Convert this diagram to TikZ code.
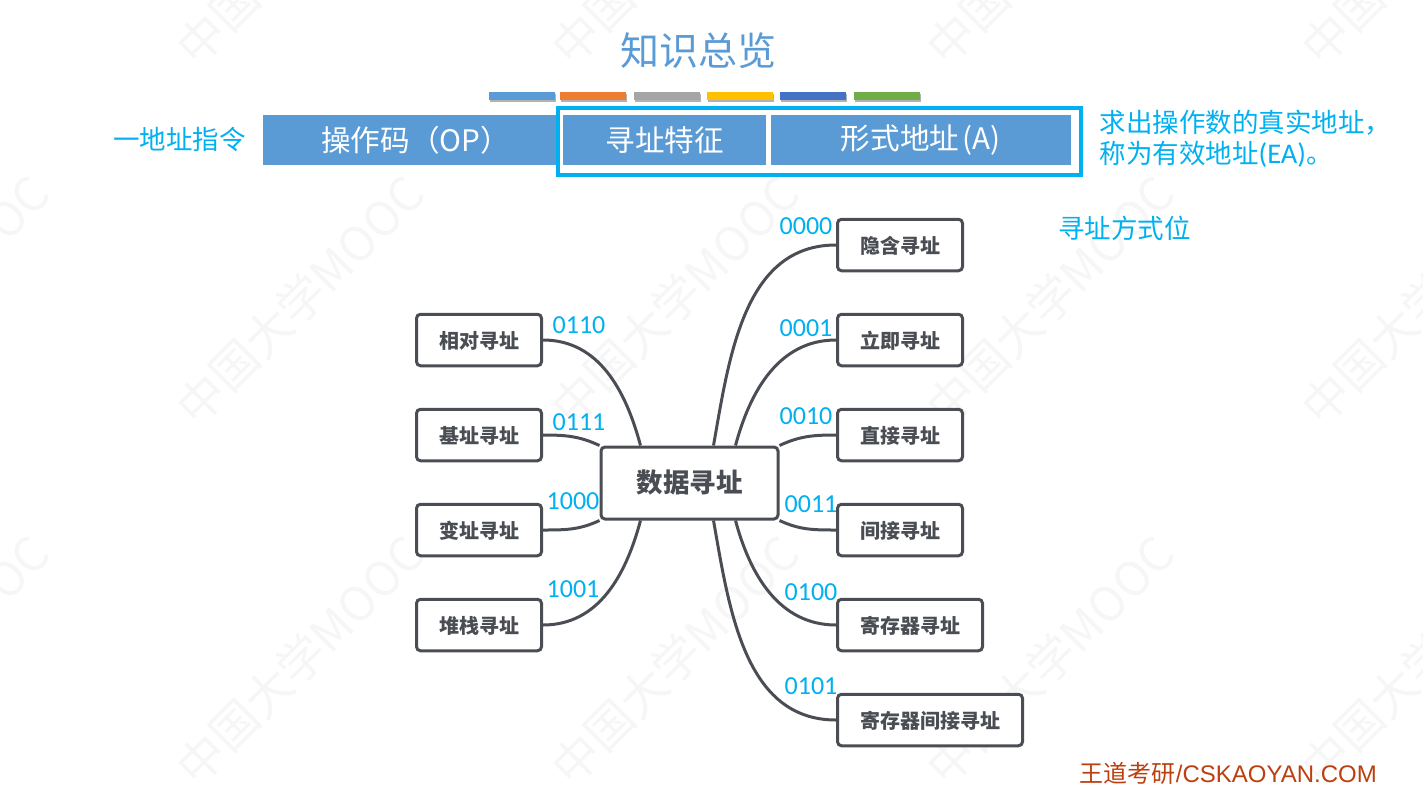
\documentclass[tikz,border=0pt]{standalone}
\usepackage{fontspec}
\setmainfont{Carlito}
\newfontfamily\cjk{Noto Sans CJK SC}
\newfontfamily\creditfont{Liberation Sans}
\usetikzlibrary{positioning}
\usetikzlibrary{shadows}
\definecolor{titleblue}{HTML}{5B9BD5}
\definecolor{barorange}{HTML}{ED7D31}
\definecolor{bargray}{HTML}{A5A5A5}
\definecolor{baryellow}{HTML}{FFC000}
\definecolor{bardeep}{HTML}{4472C4}
\definecolor{bargreen}{HTML}{70AD47}
\definecolor{hintblue}{HTML}{00B0F0}
\definecolor{mapgray}{HTML}{4A4E54}
\definecolor{markgray}{HTML}{F6F6F6}
\definecolor{creditred}{HTML}{BC3F0E}
\begin{document}
\begin{tikzpicture}[
        x=1pt,y=-1pt,
        barbox/.style={minimum width=65.5pt,minimum height=8pt,inner sep=0pt,anchor=north west,
            drop shadow={shadow xshift=1pt,shadow yshift=-2pt,fill=black,opacity=.3}},
        fieldbox/.style={fill=titleblue,text=white,minimum height=50pt,inner sep=0pt,anchor=north west,font=\cjk\fontsize{29.6}{29}\selectfont},
        hinttext/.style={text=hintblue,inner sep=0pt,font=\cjk\fontsize{26.5}{31}\selectfont},
        codetext/.style={text=hintblue,inner sep=0pt,font=\fontsize{26}{26}\selectfont},
        leafbox/.style={draw=mapgray,line width=3pt,rounded corners=4pt,fill=white,text=mapgray,inner xsep=22.5pt,inner ysep=0pt,
            minimum height=51.5pt,text depth=.4pt,font=\cjk\bfseries\fontsize{20}{20}\selectfont},
        link/.style={draw=mapgray,line width=3pt}
    ]
        \useasboundingbox (0,0) rectangle (1423,787);
        % watermark
        \begin{scope}
            \clip (0,0) rectangle (1423,787);
            \foreach \wx in {-75,300,675,1050,1425}
                \foreach \wy in {-60,300,660}
                    \node[text=markgray,rotate=45,inner sep=0pt,font=\cjk\fontsize{47}{47}\selectfont] at (\wx,\wy) {中国大学MOOC};
        \end{scope}

        \node[text=titleblue,inner sep=0pt,font=\cjk\fontsize{39}{39}\selectfont] (title) at (698.5,51) {知识总览};
        \node[barbox,fill=titleblue] (bar1) at (489,92) {};
        \node[barbox,fill=barorange] (bar2) at (560,92) {};
        \node[barbox,fill=bargray] (bar3) at (634,92) {};
        \node[barbox,fill=baryellow] (bar4) at (707,92) {};
        \node[barbox,fill=bardeep] (bar5) at (780,92) {};
        \node[barbox,fill=bargreen] (bar6) at (854,92) {};

        % instruction format
        \node[fieldbox,minimum width=293pt] (opcode) at (263,115) {\hspace{12pt}\raisebox{-2pt}{操作码（OP）}};
        \node[fieldbox,minimum width=203pt] (feature) at (563,115) {\raisebox{-2pt}{寻址特征}};
        \node[fieldbox,minimum width=300pt] (address) [right=4pt of feature] {\raisebox{-2pt}{形式地址\kern3pt(A)}\hspace{3pt}};
        \node[draw=hintblue,line width=4.5pt,minimum width=523pt,minimum height=67pt,inner sep=0pt,anchor=north west] (frame) at (555.75,105.75) {};
        \node[hinttext,anchor=east] (kind) at (246,139) {一地址指令};
        \node[hinttext,align=left,anchor=north west] (effect) at (1099.5,109.5) {求出操作数的真实地址，\\称为有效地址{\rmfamily\fontsize{28.5}{31}\selectfont(EA)}。};
        \node[hinttext,anchor=west] (modebits) at (1058,228) {寻址方式位};

        % mind map
        \node[leafbox,minimum width=177pt,minimum height=72pt,text depth=3.2pt,font=\cjk\bfseries\fontsize{26.5}{27}\selectfont] (root) at (689.5,483) {数据寻址};
        \coordinate (topa) at ([xshift=41pt]root.north west);
        \coordinate (topb) at ([xshift=114pt]root.north west);
        \coordinate (topc) at ([xshift=136pt]root.north west);
        \coordinate (bota) at ([xshift=41pt]root.south west);
        \coordinate (botb) at ([xshift=114pt]root.south west);
        \coordinate (botc) at ([xshift=136pt]root.south west);

        \node[leafbox,anchor=west] (implied) at (836,245) {隐含寻址};
        \node[leafbox,below=40.5pt of implied.south west,anchor=north west] (immediate) {立即寻址};
        \node[leafbox,below=40.5pt of immediate.south west,anchor=north west] (direct) {直接寻址};
        \node[leafbox,below=40.5pt of direct.south west,anchor=north west] (indirect) {间接寻址};
        \node[leafbox,below=40.5pt of indirect.south west,anchor=north west] (register) {寄存器寻址};
        \node[leafbox,below=40.5pt of register.south west,anchor=north west] (regindirect) {寄存器间接寻址};

        \node[leafbox,anchor=east] (relative) at (543,340) {相对寻址};
        \node[leafbox,below=40.5pt of relative.south east,anchor=north east] (base) {基址寻址};
        \node[leafbox,below=40.5pt of base.south east,anchor=north east] (indexed) {变址寻址};
        \node[leafbox,below=40.5pt of indexed.south east,anchor=north east] (stack) {堆栈寻址};

        \draw[link] (topb) to[out=80,in=180] (implied.west);
        \draw[link] (topc) to[out=75,in=180] (immediate.west);
        \draw[link] (root.north east) to[out=25,in=180] (direct.west);
        \draw[link] (root.south east) to[out=-25,in=180] (indirect.west);
        \draw[link] (botc) to[out=-75,in=180] (register.west);
        \draw[link] (botb) to[out=-80,in=180] (regindirect.west);
        \draw[link] (topa) to[out=105,in=0] (relative.east);
        \draw[link] (root.north west) to[out=155,in=0] (base.east);
        \draw[link] (root.south west) to[out=-155,in=0] (indexed.east);
        \draw[link] (bota) to[out=-105,in=0] (stack.east);

        \node[codetext] (code0) at (806,226) {0000};
        \node[codetext] (code1) at (806,328) {0001};
        \node[codetext] (code2) at (806,416) {0010};
        \node[codetext] (code3) at (811,504) {0011};
        \node[codetext] (code4) at (811,592) {0100};
        \node[codetext] (code5) at (811,686) {0101};
        \node[codetext] (code6) at (579,325) {0110};
        \node[codetext] (code7) at (579,422) {0111};
        \node[codetext] (code8) at (573,501) {1000};
        \node[codetext] (code9) at (573,589) {1001};

        \node[text=creditred,inner sep=0pt,anchor=east,font=\creditfont\fontsize{24}{25}\selectfont] (credit) at (1377,773) {{\cjk 王道考研}/CSKAOYAN.COM};
    \end{tikzpicture}
\end{document}
